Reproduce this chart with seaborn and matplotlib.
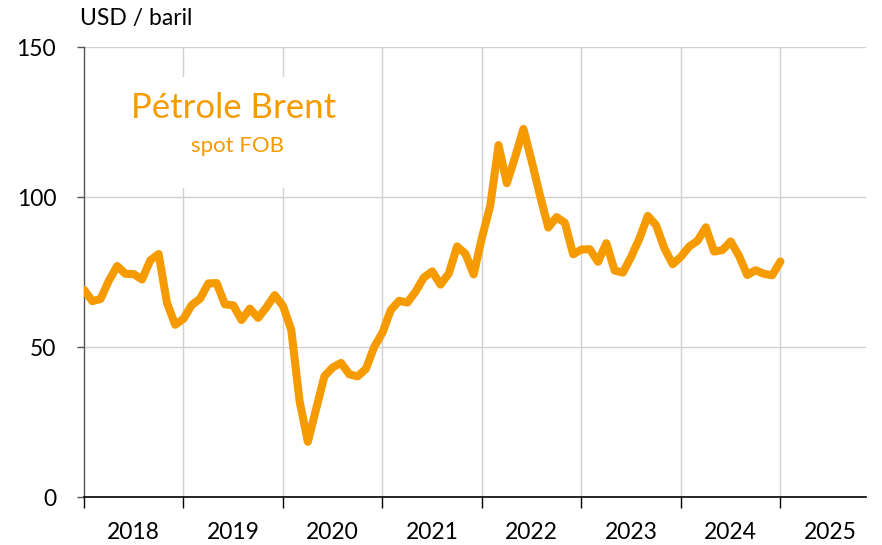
import numpy as np
import pandas as pd
import matplotlib
matplotlib.use("Agg")
import matplotlib.pyplot as plt
import seaborn as sns
from matplotlib.patches import Rectangle

# Monthly Brent spot FOB (USD / barrel), Jan 2018 .. Jan 2025
brent_2018 = [69.1, 65.3, 66.0, 72.1, 77.0, 74.4, 74.3, 72.5, 78.9, 81.0, 64.8, 57.4]
brent_2019 = [59.4, 64.0, 66.1, 71.2, 71.3, 64.2, 63.9, 59.0, 62.8, 59.7, 63.2, 67.3]
brent_2020 = [63.7, 55.7, 32.0, 18.4, 29.4, 40.3, 43.2, 44.7, 40.9, 40.2, 42.7, 50.0]
brent_2021 = [54.8, 62.3, 65.4, 64.8, 68.5, 73.2, 75.2, 70.8, 74.5, 83.5, 81.1, 74.2]
brent_2022 = [86.5, 97.1, 117.3, 104.6, 113.3, 122.7, 111.9, 100.5, 89.8, 93.3, 91.4, 80.9]
brent_2023 = [82.5, 82.6, 78.4, 84.6, 75.5, 74.8, 80.1, 86.2, 93.7, 90.6, 82.9, 77.6]
brent_2024 = [80.1, 83.5, 85.4, 89.9, 81.8, 82.3, 85.2, 80.4, 74.0, 75.6, 74.4, 73.9]
brent_2025 = [78.5]

years = [2018, 2019, 2020, 2021, 2022, 2023, 2024, 2025]
year_labels = ["2018", "2019", "2020", "2021", "2022", "2023", "2024", "2025"]
y_ticks = [0, 50, 100, 150]

values = brent_2018 + brent_2019 + brent_2020 + brent_2021 + brent_2022 + brent_2023 + brent_2024 + brent_2025
t = [2018 + i / 12 for i in range(len(values))]
df = pd.DataFrame({"t": t, "price": values})

sns.set_theme(style="white")
plt.rcParams["font.family"] = ["Lato", "DejaVu Sans"]

ORANGE = "#F59B00"
fig = plt.figure(figsize=(8.82, 5.45), dpi=100)
ax = fig.add_axes([84 / 882, 48 / 545, (866 - 84) / 882, (497 - 47) / 545])

ax.set_xlim(2018, 2025.86)
ax.set_ylim(0, 150)

# grid
for yv in y_ticks[1:]:
    ax.axhline(yv, color="#D0D0D0", lw=1.0, zorder=0)
for xv in years[1:]:
    ax.axvline(xv, color="#D0D0D0", lw=1.0, zorder=0)

# white label box covering grid
ax.add_patch(Rectangle((2018.3, 103.0), 2.1, 37.0, facecolor="white", edgecolor="none", zorder=1))

sns.lineplot(data=df, x="t", y="price", ax=ax, color=ORANGE, linewidth=5.8, zorder=3,
             solid_joinstyle="round", solid_capstyle="round")

ax.set_xlabel("")
ax.set_ylabel("")

ax.set_xticks(years)
ax.set_xticklabels([])
ax.set_xticks([y + 0.5 for y in years], minor=True)
ax.set_xticklabels(year_labels, minor=True)
ax.tick_params(axis="x", which="major", direction="out", length=8, width=1, color="black", bottom=True)
ax.tick_params(axis="x", which="minor", length=0, pad=18, labelsize=16.5, labelcolor="black")

ax.set_yticks(y_ticks)
ax.set_yticklabels([str(v) for v in y_ticks])
ax.tick_params(axis="y", direction="out", length=5, width=1, color="#555555", left=True, labelsize=16.5, pad=15, labelcolor="black")

for s in ["top", "right"]:
    ax.spines[s].set_visible(False)
ax.spines["left"].set_color("#555555")
ax.spines["left"].set_linewidth(1.0)
ax.spines["bottom"].set_color("black")
ax.spines["bottom"].set_linewidth(1.2)

fig.text(80 / 882, 1 - 18 / 545, "USD / baril", fontsize=16.5, ha="left", va="center", color="black")
ax.text(2019.5, 129.5, "Pétrole Brent", fontsize=25, ha="center", va="center", color=ORANGE, zorder=4)
ax.text(2019.54, 117, "spot FOB", fontsize=16, ha="center", va="center", color=ORANGE, zorder=4)

fig.savefig("out.png", dpi=100)
